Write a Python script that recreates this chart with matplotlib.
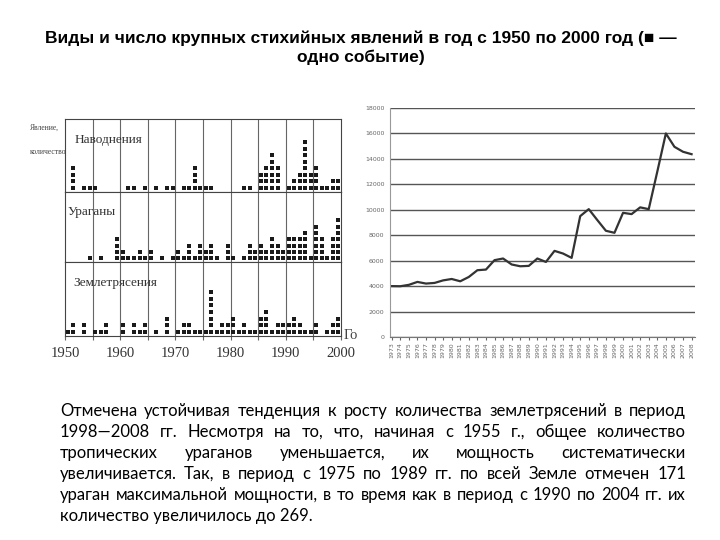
import matplotlib.pyplot as plt
from matplotlib.transforms import Bbox, TransformedBbox

# left chart: events per year 1950-1999, one square = one event
years = list(range(1950, 2000))
floods = [0, 4, 0, 1, 1, 1, 0, 0, 0, 0,
          0, 1, 1, 0, 1, 0, 1, 0, 1, 1,
          0, 1, 1, 4, 1, 1, 1, 0, 0, 0,
          0, 0, 1, 1, 0, 3, 4, 6, 4, 0,
          1, 2, 3, 8, 3, 4, 1, 1, 2, 2]
hurricanes = [0, 0, 0, 0, 1, 0, 1, 0, 0, 4,
              2, 1, 1, 2, 1, 2, 0, 1, 0, 1,
              2, 1, 3, 1, 3, 2, 3, 1, 0, 3,
              1, 0, 1, 3, 2, 3, 2, 4, 3, 2,
              4, 4, 4, 5, 1, 6, 4, 1, 4, 7]
quakes = [1, 2, 0, 2, 0, 1, 1, 2, 0, 0,
          2, 0, 2, 1, 2, 0, 1, 0, 3, 0,
          1, 2, 2, 1, 1, 1, 7, 1, 2, 2,
          3, 1, 2, 1, 1, 3, 4, 1, 2, 2,
          2, 3, 2, 1, 1, 2, 0, 1, 2, 3]
panel_names = ['Наводнения', 'Ураганы', 'Землетрясения']
decades = [1950, 1960, 1970, 1980, 1990, 2000]

# right chart: earthquakes per year 1973-2008
years2 = list(range(1973, 2009))
quakes_total = [4000, 3990, 4100, 4330, 4200, 4250, 4450, 4560, 4380, 4720,
                5250, 5300, 6040, 6170, 5700, 5560, 5590, 6170, 5900, 6770,
                6560, 6220, 9500, 10050, 9190, 8350, 8190, 9760, 9660, 10190,
                10050, 13000, 16000, 14950, 14560, 14370]
yticks2 = list(range(0, 18001, 2000))

title = ('Виды и число крупных стихийных явлений в год с 1950 по 2000 год (■ —\n'
         'одно событие)')
body = [
    'Отмечена устойчивая тенденция к росту количества землетрясений в период',
    '1998—2008 гг. Несмотря на то, что, начиная с 1955 г., общее количество',
    'тропических ураганов уменьшается, их мощность систематически',
    'увеличивается. Так, в период с 1975 по 1989 гг. по всей Земле отмечен 171',
    'ураган максимальной мощности, в то время как в период с 1990 по 2004 гг. их',
    'количество увеличилось до 269.',
]

W, H = 720, 540
fig = plt.figure(figsize=(7.2, 5.4), dpi=100)


def fx(px):
    return px / W


def fy(py):
    return 1 - py / H


def box(x0, y0, x1, y1):
    return [fx(x0), fy(y1), fx(x1) - fx(x0), fy(y0) - fy(y1)]


serif = 'Liberation Serif'
edges = [119, 192, 262, 336]
label_pos = [(0.036, 0.71), (0.011, 0.71), (0.029, 0.72)]
for i, counts in enumerate([floods, hurricanes, quakes]):
    ax = fig.add_axes(box(65, edges[i], 341, edges[i + 1]))
    xs, ys = [], []
    for yr, n in zip(years, counts):
        for k in range(n):
            xs.append(yr + 0.5)
            ys.append(k + 1)
    ax.scatter(xs, ys, marker='s', s=7, color='#1a1a1a', linewidths=0, zorder=3)
    ax.set_xlim(1950, 2000)
    ax.set_ylim(0.4, 11.5)
    for g in range(1955, 2000, 5):
        ax.axvline(g, color='#666', lw=0.8)
    ax.set_yticks([])
    for sp in ax.spines.values():
        sp.set_color('#444')
        sp.set_linewidth(0.8)
    lx, ly = label_pos[i]
    ax.text(lx, ly, panel_names[i], transform=ax.transAxes, family=serif,
            fontsize=9.5, color='#333', va='center')
    if i < 2:
        ax.set_xticks([])
    else:
        ax.set_xticks(range(1950, 2001, 5))
        ax.set_xticklabels([str(y) if y in decades else '' for y in range(1950, 2001, 5)],
                           family=serif, fontsize=10.5, color='#333')
        ax.tick_params(axis='x', length=3, color='#666', pad=5)

fig.text(fx(30), fy(128), 'Явление,', family=serif, fontsize=5.5, color='#444', va='center')
fig.text(fx(30), fy(152), 'количество', family=serif, fontsize=5.5, color='#444', va='center')
god = fig.text(fx(344), fy(335), 'Год', family=serif, fontsize=10.5, color='#444', va='center')
god.set_clip_on(True)
god.set_clip_box(TransformedBbox(Bbox([[0, 0], [fx(357), 1]]), fig.transFigure))

# right chart
ax2 = fig.add_axes(box(390, 108, 695, 337))
ax2.plot(years2, quakes_total, color='#333', lw=1.6)
ax2.set_xlim(1972.8, 2008.4)
ax2.set_ylim(0, 18000)
ax2.set_yticks(yticks2)
ax2.set_yticklabels([str(v) for v in yticks2])
ax2.grid(axis='y', color='#555', lw=1)
ax2.set_xticks(years2)
ax2.set_xticklabels([str(y) for y in years2], rotation=90)
ax2.tick_params(axis='y', labelsize=4.5, colors='#666', length=0, pad=4)
ax2.tick_params(axis='x', labelsize=4.5, colors='#666', length=2, pad=2)
ax2.spines['top'].set_visible(False)
ax2.spines['right'].set_visible(False)
ax2.spines['left'].set_color('#999')
ax2.spines['bottom'].set_color('#777')

# title
fig.text(fx(361), fy(48), title, ha='center', va='center', multialignment='center',
         family=['Liberation Sans Narrow', 'Liberation Sans', 'DejaVu Sans'],
         fontsize=12.5, fontweight='bold', linespacing=1.3)

# justified paragraph
renderer = fig.canvas.get_renderer()
x_left, x_right = 60, 686
base = [416, 437, 458, 479, 500, 521]
fs = 12
for j, line in enumerate(body):
    if j == len(body) - 1:
        fig.text(fx(x_left), fy(base[j]), line, fontsize=fs, family='Lato', va='baseline')
        continue
    words = line.split(' ')
    items = [fig.text(0, fy(base[j]), w, fontsize=fs, family='Lato', va='baseline') for w in words]
    widths = [t.get_window_extent(renderer).width for t in items]
    gap = (x_right - x_left - sum(widths)) / (len(words) - 1)
    x = x_left
    for t, w in zip(items, widths):
        t.set_x(fx(x))
        x += w + gap

fig.savefig('out.png', dpi=100)
